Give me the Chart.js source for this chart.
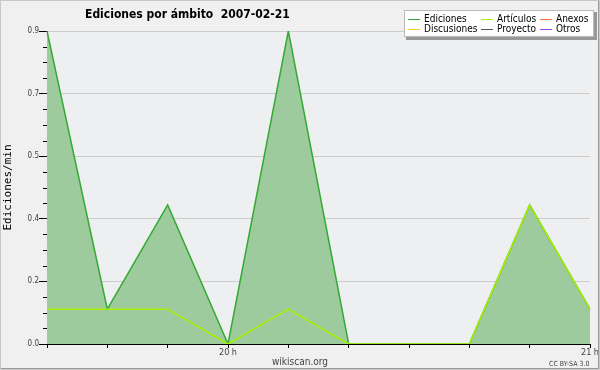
<!DOCTYPE html>
<html>
<head>
<meta charset="utf-8">
<script src="https://cdn.jsdelivr.net/npm/chart.js@4/dist/chart.umd.min.js"></script>
<style>
html, body { margin: 0; padding: 0; background: #f0f0f0; }
canvas { display: block; }
</style>
</head>
<body>
<canvas id="chart" width="600" height="370"></canvas>
<script>
// 10-minute buckets, 19:30 -> 21:00
const times = ['19:30', '19:40', '19:50', '20:00', '20:10', '20:20', '20:30', '20:40', '20:50', '21:00'];
const hourLabels = { '20:00': '20 h', '21:00': '21 h' };

const ediciones   = [0.9, 0.1, 0.4, 0, 0.9, 0, 0, 0, 0.4, 0.1];
const articulos   = [0.1, 0.1, 0.1, 0, 0.1, 0, 0, 0, 0.4, 0.1];
const anexos      = [];
const discusiones = [];
const proyecto    = [];
const otros       = [];

const titleText = 'Ediciones por ámbito  2007-02-21';
const condensed = '"DejaVu Sans Condensed", "DejaVu Sans", sans-serif';

// background, minor ticks, legend box and free text
const decorations = {
    id: 'decorations',
    beforeDraw(chart) {
        const ctx = chart.ctx;
        const a = chart.chartArea;
        ctx.save();
        ctx.fillStyle = '#f0f0f0';
        ctx.fillRect(0, 0, chart.width, chart.height);
        ctx.fillStyle = '#eeeff1';
        ctx.fillRect(a.left, a.top, a.right - a.left, a.bottom - a.top);
        ctx.restore();
    },
    afterDraw(chart) {
        const ctx = chart.ctx;
        const y = chart.scales.y;
        ctx.save();

        // minor ticks on y axis
        ctx.strokeStyle = '#000';
        ctx.lineWidth = 1;
        for (let i = 0; i < y.ticks.length - 1; i++) {
            const step = (y.ticks[i + 1].value - y.ticks[i].value) / 4;
            for (let j = 1; j < 4; j++) {
                const py = Math.round(y.getPixelForValue(y.ticks[i].value + step * j)) + 0.5;
                ctx.beginPath();
                ctx.moveTo(y.right - 4, py);
                ctx.lineTo(y.right, py);
                ctx.stroke();
            }
        }

        // title
        ctx.fillStyle = '#000';
        ctx.font = 'bold 12px ' + condensed;
        ctx.textAlign = 'left';
        ctx.textBaseline = 'alphabetic';
        ctx.fillText(titleText, 85, 18);

        // footer texts
        ctx.fillStyle = '#444';
        ctx.font = '10px ' + condensed;
        ctx.textAlign = 'center';
        ctx.fillText('wikiscan.org', 300, 365);
        ctx.font = '7px ' + condensed;
        ctx.textAlign = 'left';
        ctx.fillText('CC BY-SA 3.0', 549, 366);

        // legend box with shadow
        ctx.fillStyle = '#999';
        ctx.fillRect(406, 12, 191, 28);
        ctx.fillStyle = '#fff';
        ctx.fillRect(404, 10, 190, 27);
        ctx.strokeStyle = '#bbb';
        ctx.strokeRect(404.5, 10.5, 189, 26);

        const colX = [408, 481, 540];
        const rowY = [19, 29];
        ctx.font = '10px ' + condensed;
        chart.data.datasets.forEach((ds, i) => {
            const x = colX[i % 3];
            const yy = rowY[Math.floor(i / 3)];
            ctx.strokeStyle = ds.borderColor;
            ctx.lineWidth = 1;
            ctx.beginPath();
            ctx.moveTo(x, yy + 0.5);
            ctx.lineTo(x + 12, yy + 0.5);
            ctx.stroke();
            ctx.fillStyle = '#000';
            ctx.fillText(ds.label, x + 16, yy + 3);
        });

        // outer frame
        ctx.strokeStyle = '#c8c8c8';
        ctx.strokeRect(0.5, 0.5, chart.width - 1, chart.height - 1);
        ctx.strokeStyle = '#999';
        ctx.beginPath();
        ctx.moveTo(chart.width - 1.5, 1);
        ctx.lineTo(chart.width - 1.5, chart.height - 1.5);
        ctx.lineTo(1, chart.height - 1.5);
        ctx.stroke();
        ctx.restore();
    }
};

new Chart(document.getElementById('chart'), {
    type: 'line',
    data: {
        labels: times,
        datasets: [
            { label: 'Ediciones', data: ediciones, borderColor: '#33aa33', backgroundColor: 'rgb(157,203,157)', fill: 'origin', borderWidth: 1.5, order: 1 },
            { label: 'Artículos', data: articulos, borderColor: '#aaee00', fill: false, borderWidth: 1.5, order: 0 },
            { label: 'Anexos', data: anexos, borderColor: '#ff7733', fill: false, borderWidth: 1.5, order: 2 },
            { label: 'Discusiones', data: discusiones, borderColor: '#ffcc22', fill: false, borderWidth: 1.5, order: 3 },
            { label: 'Proyecto', data: proyecto, borderColor: '#555555', fill: false, borderWidth: 1.5, order: 4 },
            { label: 'Otros', data: otros, borderColor: '#9944ff', fill: false, borderWidth: 1.5, order: 5 }
        ]
    },
    options: {
        responsive: false,
        animation: false,
        devicePixelRatio: 1,
        layout: { padding: { top: 31, right: 10, left: 0, bottom: 0 } },
        elements: {
            line: { tension: 0 },
            point: { radius: 0, hoverRadius: 0 }
        },
        scales: {
            x: {
                type: 'category',
                offset: false,
                afterFit: s => { s.height = 26; },
                grid: { drawOnChartArea: false, tickColor: '#000', tickLength: 4 },
                border: { color: '#000' },
                ticks: {
                    autoSkip: false,
                    maxRotation: 0,
                    padding: -1,
                    color: '#444',
                    font: { family: condensed, size: 9 },
                    callback: function (v) { return hourLabels[this.getLabelForValue(v)] || ''; }
                }
            },
            y: {
                min: 0,
                max: 0.9,
                afterFit: s => { s.width = 47; },
                grid: { color: '#cccccc', tickColor: '#000', tickLength: 8 },
                border: { color: '#000' },
                ticks: {
                    count: 6,
                    padding: 0,
                    color: '#444',
                    font: { family: condensed, size: 8 },
                    callback: v => v.toFixed(1)
                },
                title: {
                    display: true,
                    text: 'Ediciones/min',
                    color: '#000',
                    font: { family: '"DejaVu Sans Mono", monospace', size: 11 },
                    padding: { top: 2, bottom: 0 }
                }
            }
        },
        plugins: {
            legend: { display: false },
            title: { display: false },
            tooltip: { enabled: false }
        }
    },
    plugins: [decorations]
});
</script>
</body>
</html>
